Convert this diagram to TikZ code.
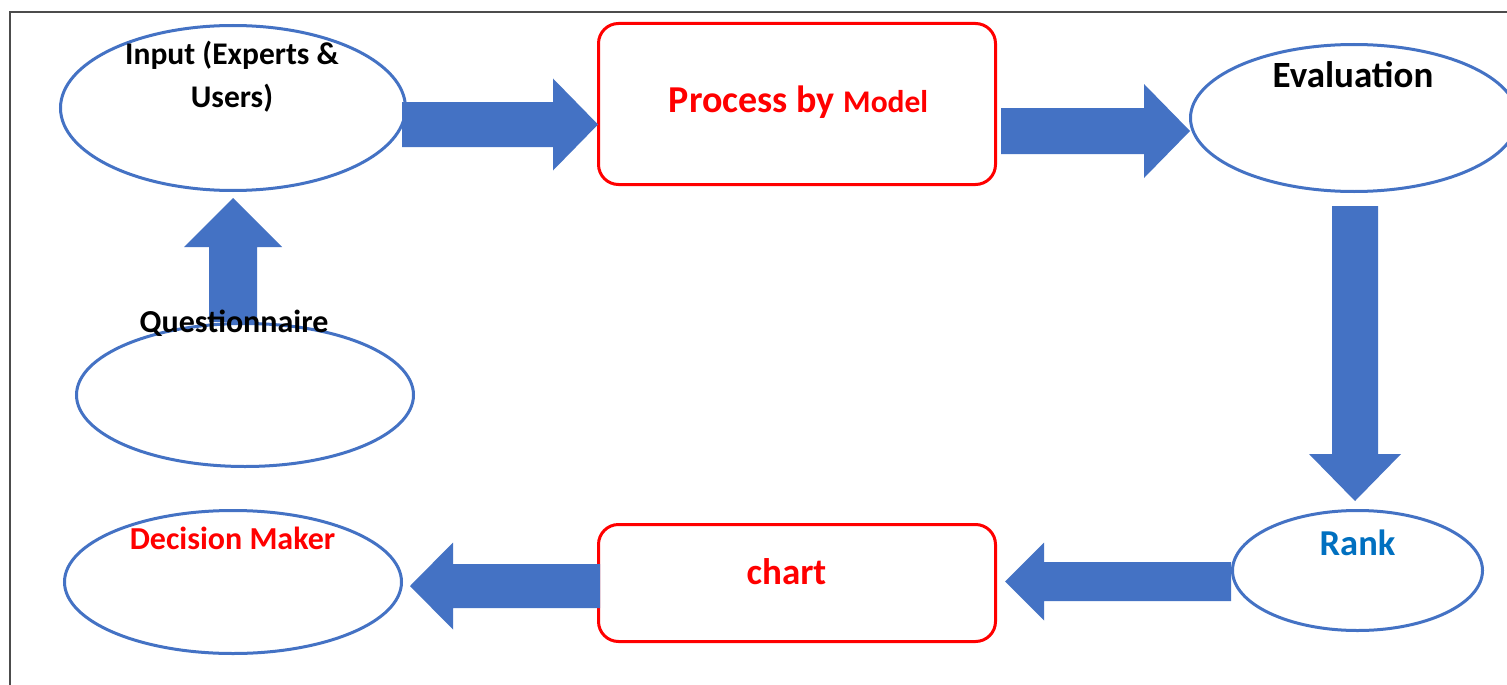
\documentclass[tikz,border=0pt]{standalone}
\usepackage{fontspec}
\setmainfont{Carlito}
\usetikzlibrary{shapes.geometric,calc}
\definecolor{oblue}{HTML}{4472C4}
\definecolor{rankblue}{HTML}{0070C0}
\definecolor{ored}{HTML}{FF0000}
\newcommand\harr[5]{%
  \fill[barrow] ($(#1)+(0,-#4)$) -- ($(#2)+(0,-#4)$) -- ($(#2)+(0,-#5)$) -- (#3) -- ($(#2)+(0,#5)$) -- ($(#2)+(0,#4)$) -- ($(#1)+(0,#4)$) -- cycle;}
\newcommand\varr[5]{%
  \fill[barrow] ($(#1)+(-#4,0)$) -- ($(#2)+(-#4,0)$) -- ($(#2)+(-#5,0)$) -- (#3) -- ($(#2)+(#5,0)$) -- ($(#2)+(#4,0)$) -- ($(#1)+(#4,0)$) -- cycle;}
\begin{document}
\begin{tikzpicture}[x=1pt,y=-1pt,
  oval/.style={ellipse, draw=oblue, line width=3pt, fill=white, inner sep=0pt},
  rbox/.style={rectangle, draw=ored, line width=3pt, rounded corners=20pt, fill=white, inner sep=0pt},
  barrow/.style={fill=oblue},
  lbl/.style={anchor=base, font=\bfseries, inner sep=0pt, align=center}]
\useasboundingbox (0,0) rectangle (1507,685);
\clip (0,0) rectangle (1507,685);
\fill[white] (0,0) rectangle (1507,685);
\draw[black!70, line width=2pt] (10,685) -- (10,12) -- (1507,12);

% shapes
\node[oval, minimum width=345, minimum height=165] (inp) at (233,108) {};
\node[rbox, minimum width=397, minimum height=161] (proc) at (797,104) {};
\node[oval, minimum width=327, minimum height=147] (eval) at (1354,118) {};
\node[oval, minimum width=250, minimum height=120] (rank) at (1357.5,570.5) {};
\node[rbox, minimum width=397, minimum height=117] (chart) at (797,583) {};
\node[oval, minimum width=337, minimum height=143] (dec) at (233,582) {};
\node[oval, minimum width=337, minimum height=143] (ques) at (245,395) {};

% block arrows
\coordinate (a1t) at (402,124.5);  \coordinate (a1b) at (553,124.5);  \coordinate (a1h) at (598,124.5);
\coordinate (a2t) at (1001,131);   \coordinate (a2b) at (1144,131);   \coordinate (a2h) at (1190,131);
\coordinate (a3t) at (1355,206);   \coordinate (a3b) at (1355,454);   \coordinate (a3h) at (1355,501);
\coordinate (a4t) at (1231,581.5); \coordinate (a4b) at (1044,581.5); \coordinate (a4h) at (1005,581.5);
\coordinate (a5t) at (600,586);    \coordinate (a5b) at (453,586);    \coordinate (a5h) at (410,586);
\coordinate (a6t) at (233,322);    \coordinate (a6b) at (233,247);    \coordinate (a6h) at (233,198);
\harr{a1t}{a1b}{a1h}{22.5}{46}
\harr{a2t}{a2b}{a2h}{23}{47}
\varr{a3t}{a3b}{a3h}{23}{46}
\harr{a4t}{a4b}{a4h}{19.5}{39}
\harr{a5t}{a5b}{a5h}{22}{43.5}
\varr{a6t}{a6b}{a6h}{24}{49}

% labels
\node[lbl, font=\bfseries\fontsize{31.5}{36}\selectfont] (tinp1) at (232,64) {Input (Experts \&};
\node[lbl, font=\bfseries\fontsize{31.5}{36}\selectfont] (tinp2) at (232,107) {Users)};
\node[lbl, text=ored] (tproc) at (798.5,112) {\fontsize{38}{44}\selectfont Process by \fontsize{31.5}{36}\selectfont Model};
\node[lbl, font=\bfseries\fontsize{37}{42}\selectfont] (teval) at (1353,88) {Evaluation};
\node[lbl, text=rankblue, font=\bfseries\fontsize{36.5}{42}\selectfont] (trank) at (1357.5,555) {Rank};
\node[lbl, text=ored, font=\bfseries\fontsize{37}{42}\selectfont] (tchart) at (786.5,584) {chart};
\node[lbl, text=ored, font=\bfseries\fontsize{32}{38}\selectfont] (tdec) at (232.5,549) {Decision Maker};
\node[lbl, font=\bfseries\fontsize{32}{38}\selectfont] (tques) at (234,332) {Questionnaire};
\end{tikzpicture}
\end{document}
